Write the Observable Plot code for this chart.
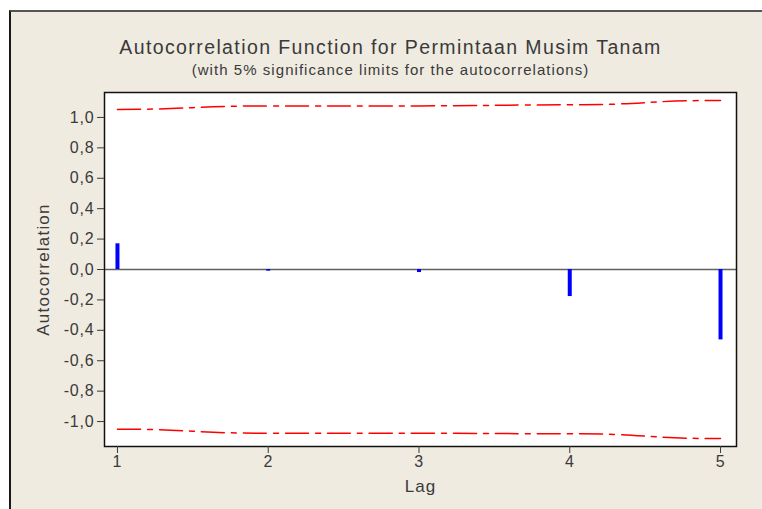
<!DOCTYPE html>
<html>
<head>
<meta charset="utf-8">
<script src="https://cdn.jsdelivr.net/npm/d3@7"></script>
<script src="https://cdn.jsdelivr.net/npm/@observablehq/plot@0.6"></script>
<style>
  html, body { margin: 0; padding: 0; background: #ffffff; width: 762px; height: 509px; overflow: hidden; }
  #panel { position: absolute; left: 9px; top: 10px; width: 760px; height: 505px;
           background: #EFEBE1; border-left: 2px solid #1a1a1a; border-top: 2px solid #555; }
  #chart { position: absolute; left: 0; top: 0; }
  #chart svg text { letter-spacing: 0.8px; }
</style>
</head>
<body>
<div id="panel"></div>
<div id="chart"></div>
<script>
const lags = [1, 2, 3, 4, 5];
const acf = [0.169, -0.011, -0.020, -0.178, -0.463];
const upperLimit = [1.053, 1.076, 1.076, 1.083, 1.112];
const lowerLimit = [-1.050, -1.077, -1.077, -1.080, -1.112];
const yTicks = [-1.0, -0.8, -0.6, -0.4, -0.2, 0.0, 0.2, 0.4, 0.6, 0.8, 1.0];
const xTicks = [1, 2, 3, 4, 5];
const titleText = "Autocorrelation Function for Permintaan Musim Tanam";
const subtitleText = "(with 5% significance limits for the autocorrelations)";

const bars = lags.map((lag, i) => ({lag, acf: acf[i]}));
const up = lags.map((lag, i) => ({lag, v: upperLimit[i]}));
const lo = lags.map((lag, i) => ({lag, v: lowerLimit[i]}));

const fmt = d => d3.format(".1f")(d).replace(".", ",").replace("\u2212", "-");
const textColor = "#3a3a3a";

const chart = Plot.plot({
  width: 762,
  height: 509,
  marginLeft: 104,
  marginRight: 26,
  marginTop: 92,
  marginBottom: 63,
  style: {fontFamily: "Liberation Sans, Arial, sans-serif", fontSize: "16px", color: textColor, background: "transparent", overflow: "visible"},
  x: {domain: [0.914, 5.106]},
  y: {domain: [-1.164, 1.164]},
  marks: [
    Plot.frame({fill: "white", stroke: null}),
    Plot.ruleY([0], {stroke: "#606060", strokeWidth: 1.5}),
    Plot.ruleX(bars, {x: "lag", y1: 0, y2: "acf", stroke: "#0000ff", strokeWidth: 4}),
    Plot.line(up, {x: "lag", y: "v", curve: "bump-x", stroke: "#ff0000", strokeWidth: 1.5, strokeDasharray: "23,7,5,7"}),
    Plot.line(lo, {x: "lag", y: "v", curve: "bump-x", stroke: "#ff0000", strokeWidth: 1.5, strokeDasharray: "23,7,5,7"}),
    Plot.frame({stroke: "#111", strokeWidth: 1.5}),
    Plot.axisY({ticks: yTicks, tickFormat: fmt, tickSize: 7, tickPadding: 3, label: null, fontSize: 16}),
    Plot.axisX({ticks: xTicks, tickFormat: d => String(d), tickSize: 7, tickPadding: 2, label: null, fontSize: 16}),
    Plot.text([titleText], {text: d => d, frameAnchor: "top", textAnchor: "middle", dx: -30, dy: -45, lineAnchor: "middle", fontSize: 19.5, fill: textColor, style: {letterSpacing: "1.4px"}}),
    Plot.text([subtitleText], {text: d => d, frameAnchor: "top", textAnchor: "middle", dx: -30, dy: -22, lineAnchor: "middle", fontSize: 15, fill: textColor}),
    Plot.text(["Autocorrelation"], {text: d => d, frameAnchor: "left", textAnchor: "middle", dx: -61, rotate: -90, lineAnchor: "middle", fontSize: 17, fill: textColor}),
    Plot.text(["Lag"], {text: d => d, frameAnchor: "bottom", textAnchor: "middle", dy: 40, lineAnchor: "middle", fontSize: 17, fill: textColor})
  ]
});
document.getElementById("chart").appendChild(chart);
// per-label letter spacing to match the reference's wide tracking
d3.select(chart).selectAll("text").each(function() {
  const t = this.textContent;
  if (t === titleText) this.style.letterSpacing = "1.4px";
  else if (t === subtitleText) this.style.letterSpacing = "1.05px";
  else if (t === "Autocorrelation") this.style.letterSpacing = "1.2px";
  else if (t === "Lag") this.style.letterSpacing = "1px";
});
</script>
</body>
</html>
